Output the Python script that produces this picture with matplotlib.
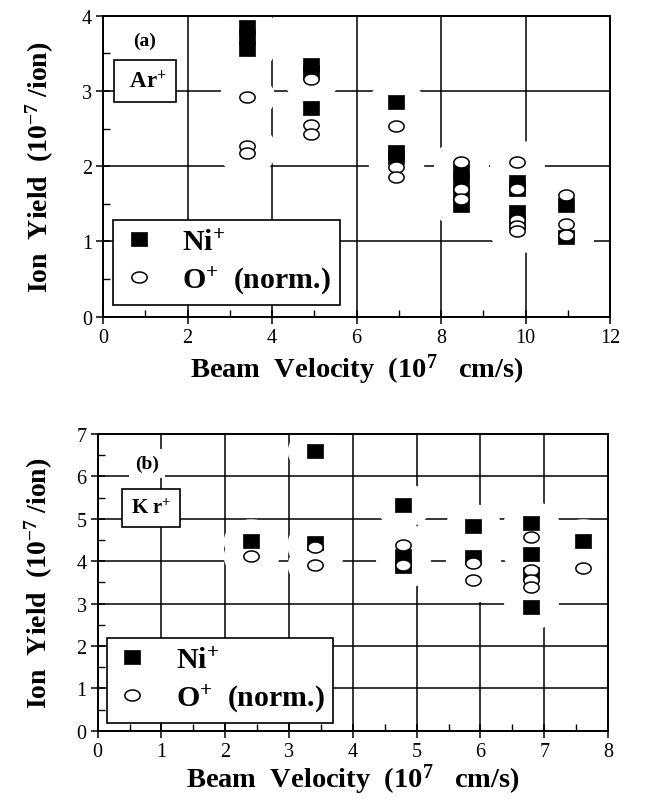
import numpy as np
import matplotlib
matplotlib.use('Agg')
import matplotlib.pyplot as plt
from matplotlib.path import Path
from matplotlib.ticker import MultipleLocator

plt.rcParams['font.family'] = ['Liberation Serif', 'DejaVu Serif']
plt.rcParams['mathtext.fontset'] = 'custom'
plt.rcParams['mathtext.rm'] = 'Liberation Serif:bold'
plt.rcParams['mathtext.default'] = 'rm'

# (a) Ar+ beam
ar_ni_v = [3.42, 3.42, 3.42, 4.92, 4.92, 4.92, 6.93, 6.93, 6.93,
           8.47, 8.47, 8.47, 8.47, 9.79, 9.79, 9.79, 9.79, 10.97, 10.97]
ar_ni_y = [3.85, 3.72, 3.56, 3.35, 3.25, 2.78, 2.85, 2.19, 2.12,
           1.93, 1.80, 1.65, 1.48, 1.79, 1.70, 1.39, 1.26, 1.48, 1.06]
ar_o_v = [3.42, 3.42, 3.42, 4.92, 4.92, 4.92, 6.93, 6.93, 6.93,
          8.47, 8.47, 8.47, 9.79, 9.79, 9.79, 9.79, 9.79, 10.97, 10.97, 10.97]
ar_o_y = [2.92, 2.27, 2.18, 3.16, 2.55, 2.43, 2.54, 1.99, 1.85,
          2.05, 1.70, 1.56, 2.05, 1.70, 1.28, 1.21, 1.14, 1.62, 1.23, 1.08]

# (b) Kr+ beam
kr_ni_v = [2.41, 3.40, 3.40, 4.79, 4.79, 4.79, 5.89, 5.89,
           6.80, 6.80, 6.80, 6.80, 7.61]
kr_ni_y = [4.48, 6.59, 4.43, 5.33, 4.11, 3.89, 4.84, 4.10,
           4.90, 4.17, 3.70, 2.91, 4.47]
kr_o_v = [2.41, 3.40, 3.40, 4.79, 4.79, 5.89, 5.89,
          6.80, 6.80, 6.80, 6.80, 7.61]
kr_o_y = [4.13, 4.34, 3.92, 4.39, 3.92, 3.96, 3.56,
          4.57, 3.78, 3.55, 3.38, 3.84]

# marker shapes
sq = Path([(-1, -0.87), (1, -0.87), (1, 0.87), (-1, 0.87), (-1, -0.87)], closed=True)
t = np.linspace(0, 2 * np.pi, 64)
ell = Path(np.column_stack([np.cos(t), 0.72 * np.sin(t)]), closed=True)
blank = Path(np.column_stack([np.cos(t), 0.8 * np.sin(t)]), closed=True)

fig = plt.figure(figsize=(6.56, 8.04), dpi=100)
ax1 = fig.add_axes([103 / 656, 1 - 317.7 / 804, 507 / 656, 301 / 804])
ax2 = fig.add_axes([97.7 / 656, 1 - 731.7 / 804, 510.3 / 656, 296.7 / 804])


def panel(ax, ni_v, ni_y, o_v, o_y, xmax, ymax, xmaj, xmin, w, h, ylab_dx, xlab_dy):
    ax.set_xlim(0, xmax)
    ax.set_ylim(0, ymax)
    ax.xaxis.set_major_locator(MultipleLocator(xmaj))
    ax.xaxis.set_minor_locator(MultipleLocator(xmin))
    ax.yaxis.set_major_locator(MultipleLocator(1))
    ax.yaxis.set_minor_locator(MultipleLocator(0.5))
    ax.set_axisbelow(True)
    ax.grid(True, which='major', color='black', lw=1.1)
    # white gaps in the grid around the points
    ax.plot(ni_v + o_v, ni_y + o_y, ls='none', marker=blank, ms=40,
            mfc='white', mec='none', zorder=1)
    ax.plot(ni_v, ni_y, ls='none', marker=sq, ms=11, mfc='black',
            mec='black', mew=0.5, zorder=3, label='Ni$^{+}$')
    ax.plot(o_v, o_y, ls='none', marker=ell, ms=11, mfc='white',
            mec='black', mew=1.1, zorder=4, label='O$^{+}$  (norm.)')
    ax.tick_params(which='major', direction='inout', length=10, width=1.1,
                   labelsize=14.5, pad=3)
    ax.tick_params(which='minor', direction='in', length=5, width=1.0)
    for s in ax.spines.values():
        s.set_linewidth(1.4)
    ax.set_xlabel('Beam  Velocity  (10$^{7}$   cm/s)', fontsize=20.5,
                  fontweight='bold')
    ax.set_ylabel('Ion  Yield  (10$^{-7}$ /ion)', fontsize=20,
                  fontweight='bold')
    ax.xaxis.set_label_coords(0.5, -xlab_dy / h)
    ax.yaxis.set_label_coords(-ylab_dx / w, 0.5)


panel(ax1, ar_ni_v, ar_ni_y, ar_o_v, ar_o_y, 12, 4, 2, 1, 507, 301, 47, 35)
panel(ax2, kr_ni_v, kr_ni_y, kr_o_v, kr_o_y, 8, 7, 1, 0.5, 510.3, 296.7, 43, 31)

for ax, anchor in [(ax1, (0.02, 0.039)), (ax2, (0.018, 0.026))]:
    leg = ax.legend(loc='lower left', bbox_to_anchor=anchor, fancybox=False,
                    framealpha=1, edgecolor='black', borderpad=0.3,
                    handlelength=1.1, handletextpad=0.9, labelspacing=0.3,
                    borderaxespad=0,
                    prop={'family': 'Liberation Serif', 'weight': 'bold', 'size': 21.5})
    leg.get_frame().set_linewidth(1.2)
    leg.set_zorder(6)

box = dict(boxstyle='square,pad=0.42', fc='white', ec='black', lw=1.2)
ax1.text(0.081, 0.919, '(a)', transform=ax1.transAxes, ha='center', va='center',
         fontsize=14, fontweight='bold',
         bbox=dict(boxstyle='square,pad=0.3', fc='white', ec='none'), zorder=6)
ax1.text(0.083, 0.784, ' Ar$^{+}$', transform=ax1.transAxes, ha='center',
         va='center', fontsize=16.5, fontweight='bold', bbox=box, zorder=6)
ax2.text(0.097, 0.902, '(b)', transform=ax2.transAxes, ha='center', va='center',
         fontsize=14, fontweight='bold',
         bbox=dict(boxstyle='square,pad=0.3', fc='white', ec='none'), zorder=6)
ax2.text(0.105, 0.75, 'K r$^{+}$', transform=ax2.transAxes, ha='center',
         va='center', fontsize=15, fontweight='bold', bbox=box, zorder=6)

fig.savefig('out.png', dpi=100)
